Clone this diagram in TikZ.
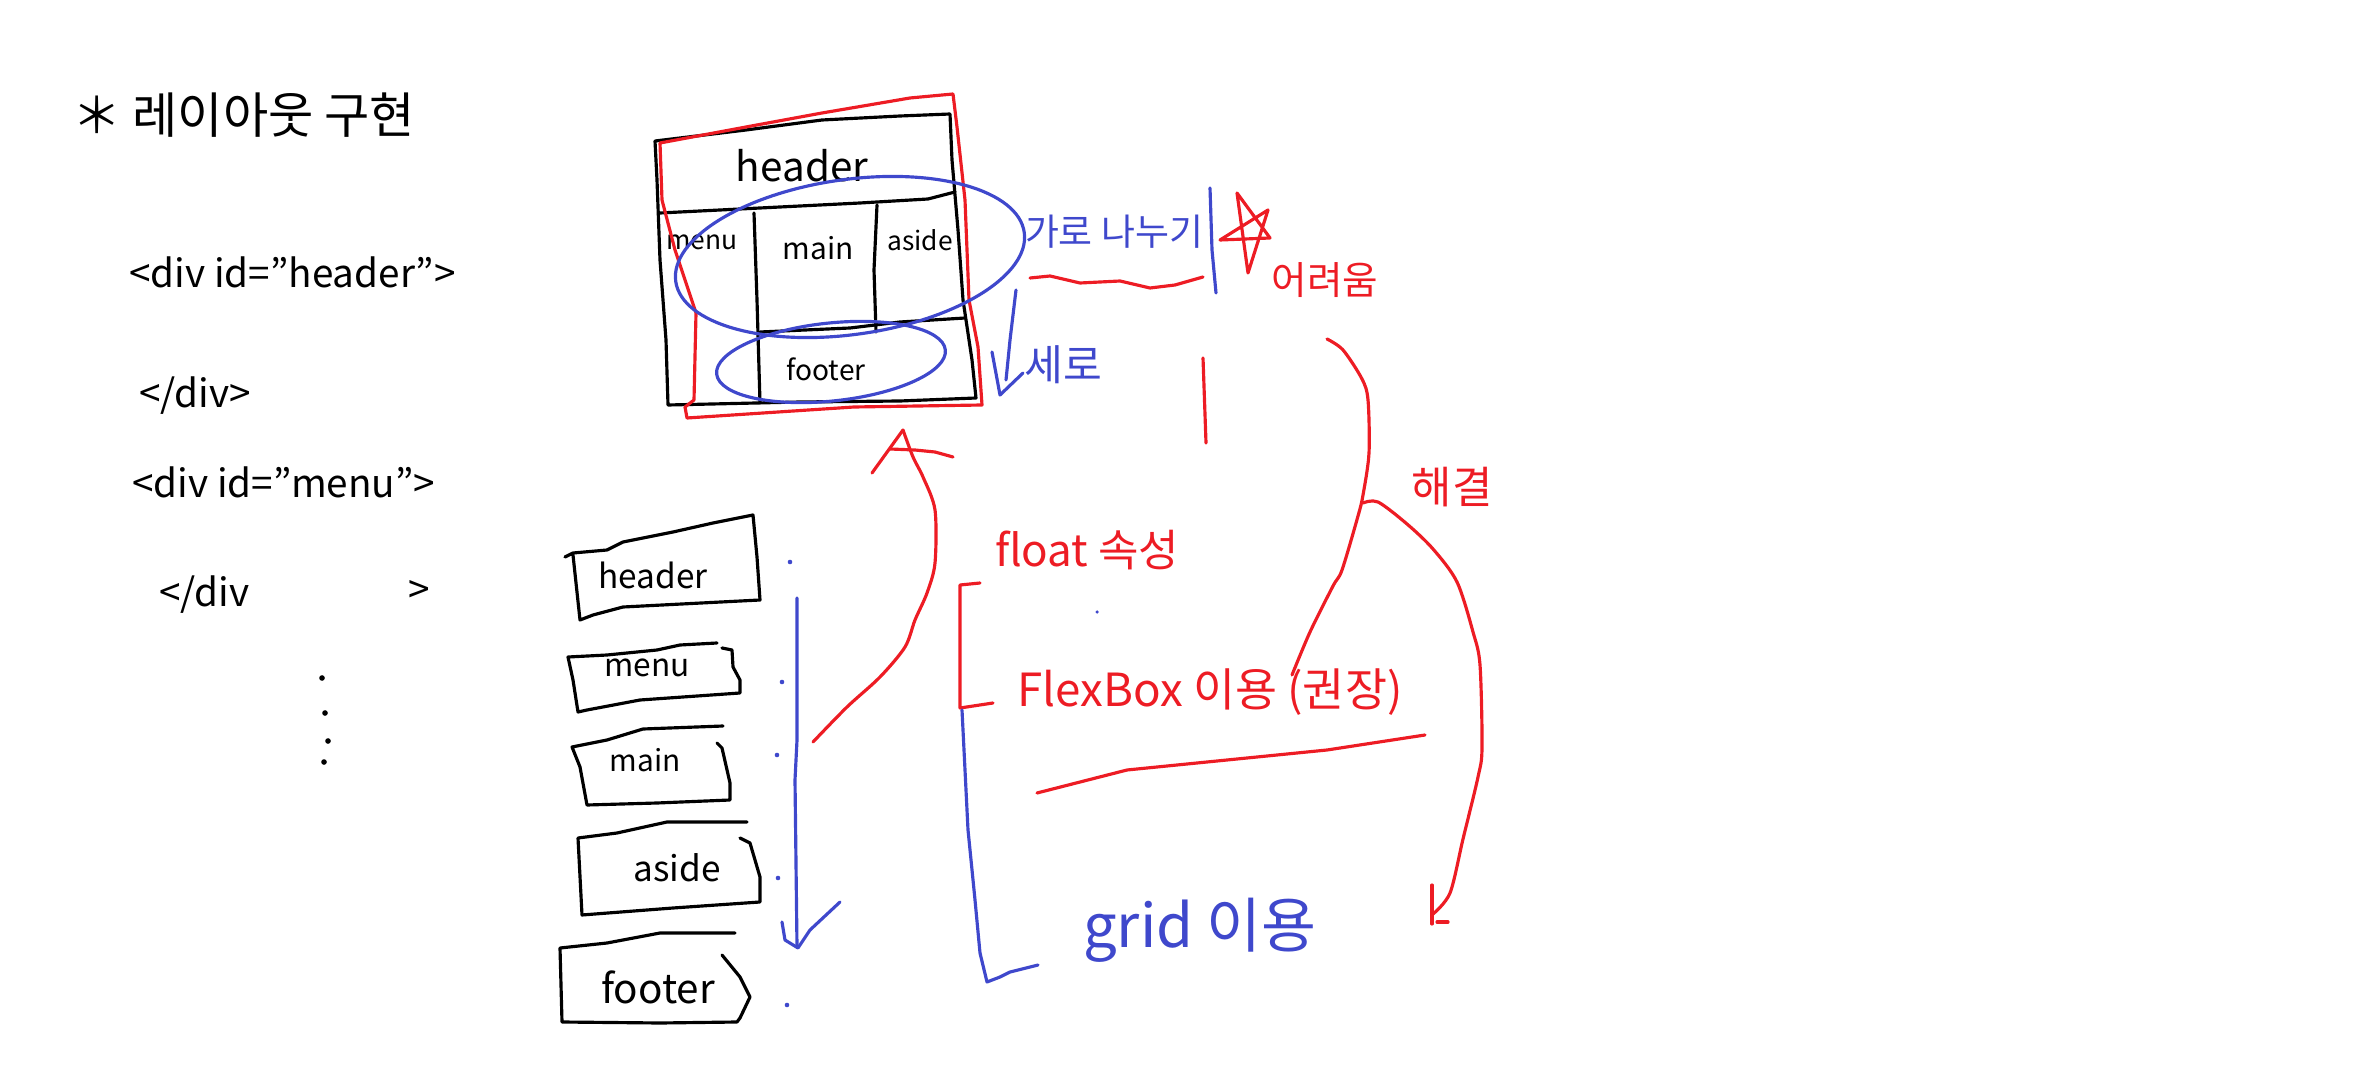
\documentclass[tikz,border=0pt]{standalone}
\usepackage{fontspec}
\setmainfont{Noto Sans CJK KR}
\definecolor{pr}{HTML}{ED1C24}
\definecolor{pb}{HTML}{3F48CC}
\newcommand\dq{{\char34}}
\tikzset{
  pen/.style={line width=1.8pt, line cap=round, line join=round},
  kpen/.style={pen, draw=black},
  rpen/.style={pen, draw=pr},
  bpen/.style={pen, draw=pb},
  lbl/.style={inner sep=0pt, text=black},
  code/.style={lbl, anchor=west, font=\fontsize{22}{26}\selectfont},
  rtxt/.style={inner sep=0pt, text=pr},
  btxt/.style={inner sep=0pt, text=pb},
}
\begin{document}
\begin{tikzpicture}[x=0.02cm,y=-0.02cm]
\useasboundingbox (0,0) rectangle (2372,1070);

% ---------- title and code ----------
\node[lbl, anchor=west, font=\fontsize{28}{32}\selectfont] (title) at (72,115) {＊ 레이아웃 구현};
\node[code] (c1) at (129,272) {<div id=\dq header\dq>};
\node[code] (c2) at (139,396) {</div>};
\node[code] (c3) at (132,482) {<div id=\dq menu\dq>};
\node[code] (c4) at (159,595) {</div};
\node[code] (c5) at (408,592) {>};
\foreach \p in {(322,678),(325,713),(328,741),(324,762)} \fill \p circle (1.6pt);

% ---------- top layout sketch ----------
\draw[kpen] (655,141) -- (746,130) -- (822,120) -- (900,116) -- (950,114) -- (952,160) -- (958,230)
  -- (963,300) -- (972,360) -- (976,398) -- (900,401) -- (800,402) -- (668,405) -- (666,340)
  -- (660,260) -- (657,180) -- cycle;
\draw[kpen] (660,213) -- (760,208) -- (860,203) -- (928,199) -- (955,192);
\draw[kpen] (754,213) -- (757,300) -- (760,403);
\draw[kpen] (877,205) -- (874,270) -- (876,332);
\draw[kpen] (760,332) -- (850,328) -- (900,322) -- (965,318);
\node[lbl, font=\fontsize{23}{26}\selectfont] (th) at (802,166) {header};
\node[lbl, font=\fontsize{15}{18}\selectfont] (tm) at (702,242) {menu};
\node[lbl, font=\fontsize{17}{20}\selectfont] (tn) at (818,248) {main};
\node[lbl, font=\fontsize{15}{18}\selectfont] (ta) at (920,240) {aside};
\node[lbl, font=\fontsize{16}{19}\selectfont] (tf) at (826,369) {footer};

\draw[rpen] (660,143) -- (746,127) -- (822,113) -- (910,98) -- (953,94) -- (957,127) -- (965,200)
  -- (969,300) -- (978,347) -- (982,405) -- (854,407) -- (687,418) -- (685,407) -- (694,400)
  -- (696,313) -- (675,250) -- (662,200) -- cycle;

\draw[bpen, rotate around={8:(850,257)}] (850,257) ellipse [x radius=3.52cm, y radius=1.55cm];
\draw[bpen, rotate around={6:(831,362)}] (831,362) ellipse [x radius=2.3cm, y radius=0.78cm];

% ---------- right-hand notes ----------
\node[btxt, font=\fontsize{21}{25}\selectfont] (hsplit) at (1114,232) {가로 나누기};
\draw[bpen] (1210,188) -- (1212,250) -- (1216,293);
\draw[rpen] (1030,278) -- (1050,276) -- (1080,283) -- (1120,281) -- (1150,288) -- (1175,285) -- (1203,277);
\draw[rpen] (1237,193) -- (1248,273) -- (1268,210) -- (1220,240) -- (1270,238) -- cycle;
\node[rtxt, font=\fontsize{22}{26}\selectfont] (hard) at (1325,280) {어려움};

\node[btxt, font=\fontsize{24}{28}\selectfont] (vsplit) at (1063,365) {세로};
\draw[bpen] (1016,290) -- (1010,340) -- (1006,380);
\draw[bpen] (992,352) -- (1000,395) -- (1023,373);
\draw[rpen] (1203,358) -- (1206,443);

\coordinate (aS) at (1327,339);
\coordinate (aE) at (1292,675);
\draw[rpen] plot[smooth] coordinates {(aS) (1343,350) (1362,379) (1368,400) (1369,453) (1363,495)
  (1358,516) (1342,570) (1333,586) (1310,632) (aE)};
\coordinate (bS) at (1363,503);
\coordinate (bE) at (1433,914);
\draw[rpen] plot[smooth] coordinates {(bS) (1378,502) (1407,524) (1433,549) (1457,582) (1473,632)
  (1480,665) (1482,748) (1478,777) (1463,839) (1450,893) (bE)};
\draw[rpen] (1432,885) -- (1432,924);
\draw[rpen] (1437,922) -- (1448,922);
\node[rtxt, font=\fontsize{25}{29}\selectfont] (solve) at (1452,487) {해결};

% ---------- alternatives ----------
\node[rtxt, font=\fontsize{25}{29}\selectfont] (float) at (1087,550) {float 속성};
\node[rtxt, font=\fontsize{26}{30}\selectfont] (flex) at (1210,692) {FlexBox 이용 (권장)};
\draw[rpen] (1037,793) -- (1127,770) -- (1227,760) -- (1327,750) -- (1425,735);
\node[btxt, font=\fontsize{34}{38}\selectfont] (grid) at (1200,930) {grid 이용};
\draw[rpen] (980,583) -- (960,585) -- (960,708) -- (993,703);
\draw[bpen] (962,710) -- (968,830) -- (975,900) -- (980,953) -- (987,982) -- (1000,977) -- (1010,972) -- (1038,965);
\fill[pb] (1097,612) circle (1pt);

% ---------- stacked div boxes ----------
\draw[kpen] (565,557) -- (573,553) -- (607,550) -- (623,542) -- (673,532) -- (713,523) -- (753,515)
  -- (757,557) -- (760,600) -- (623,607) -- (593,615) -- (580,620) -- (573,555);
\node[lbl, font=\fontsize{19}{22}\selectfont] (bh) at (653,575) {header};
\draw[kpen] (717,643) -- (680,645) -- (657,650) -- (607,655) -- (568,657) -- (573,680) -- (578,712)
  -- (587,710) -- (640,700) -- (740,693) -- (740,680) -- (733,667) -- (732,650) -- (722,648);
\node[lbl, font=\fontsize{18}{21}\selectfont] (bm) at (647,668) {menu};
\draw[kpen] (723,726) -- (643,729) -- (607,740) -- (572,747) -- (580,767) -- (587,805) -- (657,803)
  -- (730,800) -- (730,783) -- (722,748) -- (717,743);
\node[lbl, font=\fontsize{17}{20}\selectfont] (bn) at (645,760) {main};
\draw[kpen] (747,822) -- (667,822) -- (617,833) -- (578,838) -- (582,915) -- (673,908) -- (760,902)
  -- (760,877) -- (750,843) -- (740,838);
\node[lbl, font=\fontsize{20}{23}\selectfont] (ba) at (677,868) {aside};
\draw[kpen] (735,933) -- (660,933) -- (607,943) -- (560,948) -- (562,1022) -- (660,1023) -- (737,1022)
  -- (740,1018) -- (750,997) -- (740,977) -- (722,955);
\node[lbl, font=\fontsize{23}{26}\selectfont] (bf) at (658,987) {footer};

% blue flow arrow
\draw[bpen] (797,598) -- (797,740) -- (795,780) -- (797,947);
\draw[bpen] (782,922) -- (785,940) -- (798,948) -- (810,930) -- (840,902);
\foreach \p in {(790,562),(782,682),(777,755),(778,878),(787,1005)} \fill[pb] \p circle (1.3pt);

% red arrow back to the layout
\coordinate (arrS) at (813,742);
\coordinate (arrT) at (903,430);
\draw[rpen] plot[smooth] coordinates {(arrS) (847,707) (880,677) (905,647) (915,620) (927,593)
  (935,563) (935,510) (923,477) (913,457) (arrT)};
\draw[rpen] (arrT) -- (872,473);
\draw[rpen] (890,449) -- (915,450) -- (935,452) -- (953,457);
\end{tikzpicture}
\end{document}
